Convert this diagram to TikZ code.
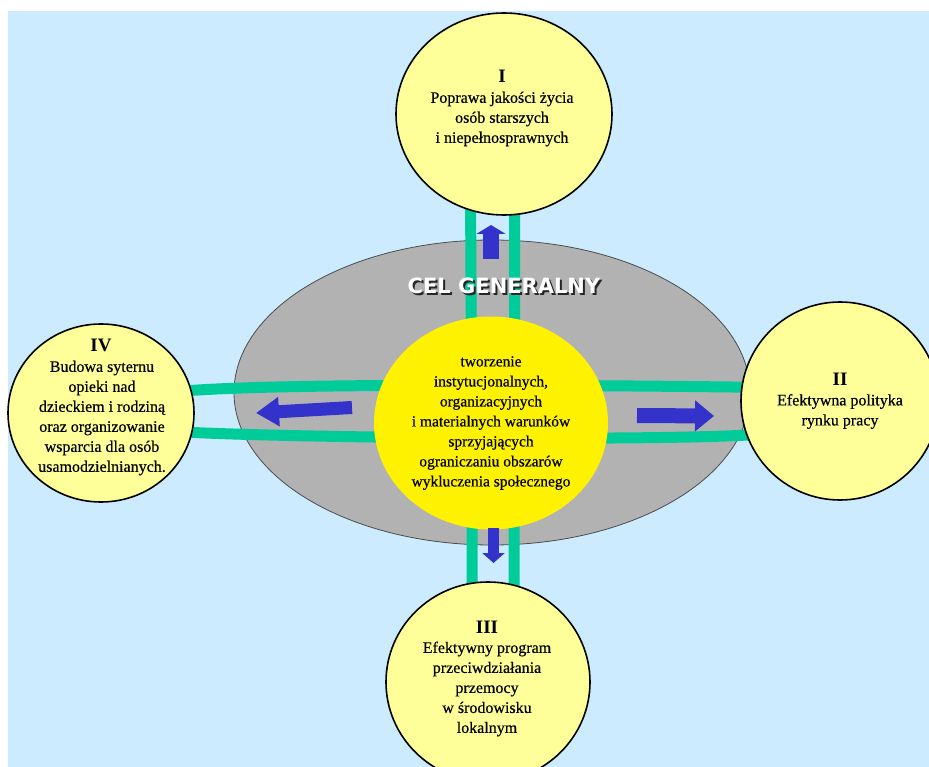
\documentclass[tikz,border=0pt]{standalone}
\usepackage{fontspec}
\setmainfont{Liberation Serif}
\newfontfamily\opisfont{Liberation Serif}[FakeBold=0.5]
\newfontfamily\celfont{DejaVu Sans}
\usetikzlibrary{shapes.geometric,arrows.meta}
\pgfdeclarelayer{back}
\pgfdeclarelayer{mid}
\pgfsetlayers{back,mid,main}
\definecolor{tlo}{RGB}{204,235,255}
\definecolor{jasny}{RGB}{255,255,153}
\definecolor{szary}{RGB}{178,178,178}
\definecolor{pas}{RGB}{0,204,153}
\definecolor{strz}{RGB}{51,51,204}
\newcommand{\cieniowany}[1]{\makebox[0pt][l]{\hspace{2pt}\raisebox{-2pt}[0pt][0pt]{\color{black!85}#1}}\color{white}#1}
\tikzset{
  kolo/.style={ellipse,draw=black,line width=1.6pt,fill=jasny,inner sep=0pt},
  opis/.style={align=center,font=\opisfont\fontsize{16}{20}\selectfont},
  numer/.style={font=\fontsize{19}{20}\selectfont\bfseries},
  pasek/.style={pas,line width=11pt,shorten <=-6pt,shorten >=-6pt},
  strzalka/.style={strz,line width=#1}
}
\begin{document}
\begin{tikzpicture}[x=1pt,y=-1pt]
\useasboundingbox (0,0) rectangle (929,767);
\clip (0,0) rectangle (929,767);
\begin{pgfonlayer}{back}
\fill[tlo] (8,11) rectangle (929,767);
\node[ellipse,draw=black!70,line width=0.8pt,fill=szary,minimum width=516pt,minimum height=305pt] (cel) at (492,392.5) {};
\end{pgfonlayer}
\node[ellipse,fill=yellow,inner sep=0pt,minimum width=234pt,minimum height=213pt] (gen) at (491,423) {};
\node[kolo,minimum width=216pt,minimum height=202pt] (p1) at (504,114) {};
\node[kolo,minimum width=198pt,minimum height=198pt] (p2) at (840,401) {};
\node[kolo,minimum width=204pt,minimum height=200pt] (p3) at (488,682) {};
\node[kolo,minimum width=186pt,minimum height=178pt] (p4) at (101,413) {};
\begin{pgfonlayer}{mid}
\draw[pasek] (p4.14) .. controls (300,382) and (650,386) .. (p2.172);
\draw[pasek] (p4.348) .. controls (300,438) and (650,441) .. (p2.200);
\draw[pasek] (p1.251) -- (p3.99);
\draw[pasek] (p1.276) -- (p3.75);
\end{pgfonlayer}
\coordinate (a1s) at (491,259);
\coordinate (a1e) at (491,225);
\coordinate (a2s) at (637,415.5);
\coordinate (a2e) at (714,416);
\coordinate (a3s) at (493.5,528);
\coordinate (a3e) at (493.5,563);
\coordinate (a4s) at (352,407.5);
\coordinate (a4e) at (256,413);
\draw[strzalka=16pt,-{Triangle[length=9pt,width=29pt]}] (a1s) -- (a1e);
\draw[strzalka=15pt,-{Triangle[length=19pt,width=30pt]}] (a2s) -- (a2e);
\draw[strzalka=11pt,-{Triangle[length=10pt,width=22pt]}] (a3s) -- (a3e);
\draw[strzalka=13pt,-{Triangle[length=23pt,width=28pt]}] (a4s) -- (a4e);
\node[font=\celfont\bfseries\fontsize{21}{21}\selectfont] (celnapis) at (504,286) {\cieniowany{CEL GENERALNY}};
\node[opis,font=\opisfont\fontsize{15.5}{20}\selectfont] (gentxt) at (491,423) {tworzenie\\instytucjonalnych,\\organizacyjnych\\i materialnych warunków\\sprzyjających\\ograniczaniu obszarów\\wykluczenia społecznego};
\node[numer] (n1) at (502,76) {I};
\node[opis] (t1) at (502,119) {Poprawa jakości życia\\osób starszych\\i niepełnosprawnych};
\node[numer] (n2) at (840,379) {II};
\node[opis] (t2) at (840,411.5) {Efektywna polityka\\rynku pracy};
\node[numer] (n3) at (487,627) {III};
\node[opis] (t3) at (487,689) {Efektywny program\\przeciwdziałania\\przemocy\\w środowisku\\lokalnym};
\node[numer] (n4) at (101,345) {IV};
\node[opis] (t4) at (102,418) {Budowa syternu\\opieki nad\\dzieckiem i rodziną\\oraz organizowanie\\wsparcia dla osób\\usamodzielnianych.};
\end{tikzpicture}
\end{document}
